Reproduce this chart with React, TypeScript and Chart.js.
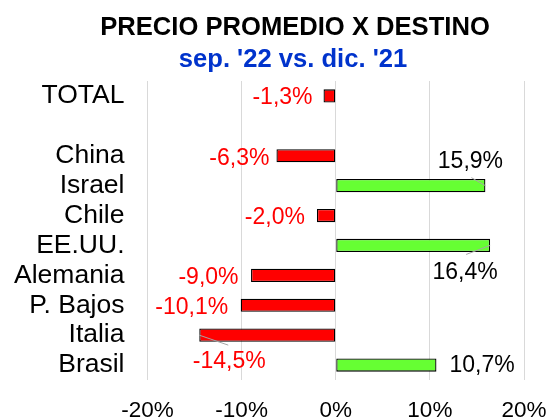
import React, { useEffect, useRef } from "react";
import { Chart, registerables } from "chart.js";

Chart.register(...registerables);

const categories = ["TOTAL", "", "China", "Israel", "Chile", "EE.UU.", "Alemania", "P. Bajos", "Italia", "Brasil"];
const values: (number | null)[] = [-1.3, null, -6.3, 15.9, -2.0, 16.4, -9.0, -10.1, -14.5, 10.7];
const xTicks = [-20, -10, 0, 10, 20];
const titleText = "PRECIO PROMEDIO X DESTINO";
const subtitleText = "sep. '22 vs. dic. '21";

const FONT = "'Liberation Sans', Arial, sans-serif";
const RED = "#FF0000";
const GREEN = "#66FF33";
const BLUE = "#0033CC";

type Place = { align: CanvasTextAlign; dx: number; dy: number; leader?: [number, number] } | null;
const placement: Place[] = [
  { align: "right", dx: -11, dy: 1.5 },
  null,
  { align: "right", dx: -7, dy: 3 },
  { align: "center", dx: -15, dy: -23.5, leader: [-14, -8] },
  { align: "right", dx: -12, dy: 2 },
  { align: "center", dx: -25, dy: 27.5, leader: [-24, 9] },
  { align: "right", dx: -12.5, dy: 2.5 },
  { align: "right", dx: -12.5, dy: 2.5 },
  { align: "center", dx: 30, dy: 27, leader: [29, 10] },
  { align: "left", dx: 13, dy: 1 },
];

const fmt = (v: number) => v.toFixed(1).replace(".", ",") + "%";

const overlay = {
  id: "overlay",
  afterDatasetsDraw(chart: any) {
    const ctx = chart.ctx as CanvasRenderingContext2D;
    const meta = chart.getDatasetMeta(0);
    ctx.save();
    meta.data.forEach((el: any, i: number) => {
      const v = values[i];
      const p = placement[i];
      if (v === null || !p) return;
      const xEnd = el.x;
      const yc = el.y;
      if (p.leader) {
        ctx.strokeStyle = "#A6A6A6";
        ctx.lineWidth = 1;
        ctx.beginPath();
        ctx.moveTo(xEnd, yc);
        ctx.lineTo(xEnd + p.leader[0], yc + p.leader[1]);
        ctx.stroke();
      }
      ctx.font = `23px ${FONT}`;
      ctx.fillStyle = v < 0 ? RED : "#000000";
      ctx.textAlign = p.align;
      ctx.textBaseline = "middle";
      ctx.fillText(fmt(v), xEnd + p.dx, yc + p.dy);
    });
    ctx.restore();
  },
  afterDraw(chart: any) {
    const ctx = chart.ctx as CanvasRenderingContext2D;
    ctx.save();
    ctx.textAlign = "center";
    ctx.textBaseline = "middle";
    ctx.font = `bold 25.6px ${FONT}`;
    ctx.fillStyle = "#000000";
    ctx.fillText(titleText, 295, 28);
    ctx.fillStyle = BLUE;
    ctx.fillText(subtitleText, 293, 60);
    ctx.restore();
  },
};

export default function App() {
  const ref = useRef<HTMLCanvasElement>(null);
  useEffect(() => {
    document.body.style.margin = "0";
    const chart = new Chart(ref.current!, {
      type: "bar",
      data: {
        labels: categories,
        datasets: [
          {
            data: values as any,
            backgroundColor: values.map((v) => ((v ?? 0) < 0 ? RED : GREEN)),
            borderColor: "#000000",
            borderWidth: 1.3,
            borderSkipped: false,
            barPercentage: 0.44,
            categoryPercentage: 1,
          },
        ],
      },
      options: {
        indexAxis: "y",
        responsive: false,
        animation: false,
        events: [],
        layout: { padding: { top: 81, right: 24, left: 0, bottom: 0 } },
        plugins: { legend: { display: false }, tooltip: { enabled: false } },
        scales: {
          x: {
            min: -20,
            max: 20,
            afterBuildTicks: (scale: any) => {
              scale.ticks = xTicks.map((v) => ({ value: v }));
            },
            afterFit: (scale: any) => {
              scale.height = 39;
              scale.paddingLeft = 0;
              scale.paddingRight = 0;
            },
            grid: { color: "#D9D9D9", lineWidth: 1, drawTicks: false },
            border: { display: false },
            ticks: {
              color: "#000000",
              font: { family: FONT, size: 22.5 },
              padding: 17,
              callback: (v: any) => `${v}%`,
            },
          },
          y: {
            afterFit: (scale: any) => {
              scale.width = 147.5;
              scale.paddingTop = 0;
              scale.paddingBottom = 0;
            },
            grid: { display: false, drawTicks: false },
            border: { display: false },
            ticks: {
              color: "#000000",
              font: { family: FONT, size: 26.5 },
              padding: 23,
              autoSkip: false,
            },
          },
        },
      },
      plugins: [overlay],
    });
    return () => chart.destroy();
  }, []);
  return (
    <div style={{ position: "relative", width: 548, height: 419 }}>
      <canvas ref={ref} width={548} height={419} style={{ display: "block" }} />
    </div>
  );
}
